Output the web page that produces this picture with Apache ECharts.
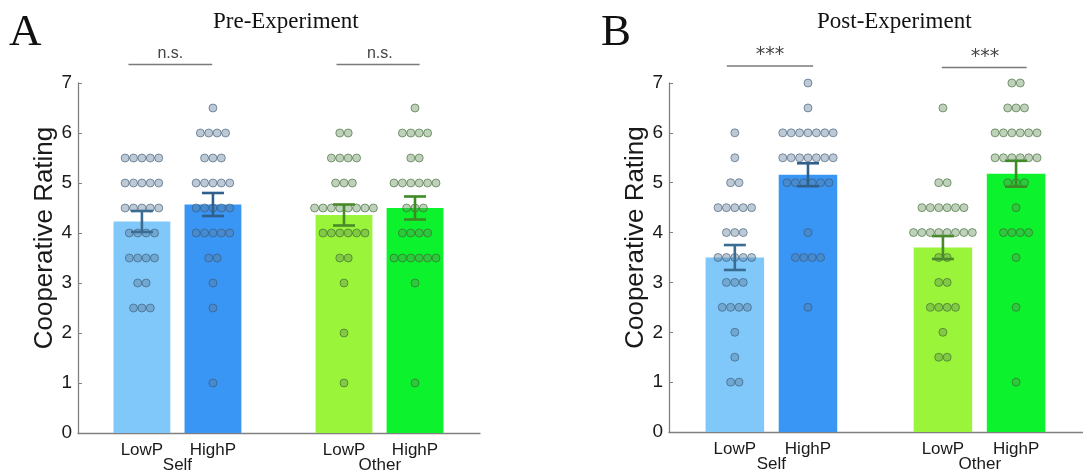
<!DOCTYPE html>
<html><head><meta charset="utf-8">
<script src="https://cdn.jsdelivr.net/npm/echarts@6/dist/echarts.min.js"></script>
<style>html,body{margin:0;padding:0;background:#fff}#c{width:1083px;height:476px}</style>
</head><body><div id="c"></div>
<script>
// ---------- data ----------
const conditions = ['LowP', 'HighP', 'LowP', 'HighP'];
const groups = ['Self', 'Other'];
const barPos = [0.9, 1.9, 3.745, 4.745];
const groupPos = [1.4, 4.25];
const yTicks = [0, 1, 2, 3, 4, 5, 6, 7];

const preMeans = [4.23, 4.57, 4.36, 4.50];
const preSem = [0.21, 0.23, 0.21, 0.23];
const postMeans = [3.50, 5.16, 3.70, 5.18];
const postSem = [0.25, 0.23, 0.23, 0.26];

const preSelfLow = [5.5,5.5,5.5,5.5,5.5, 5,5,5,5,5, 4.5,4.5,4.5,4.5,4.5, 4,4,4,4, 3.5,3.5,3.5,3.5, 3,3, 2.5,2.5,2.5];
const preSelfHigh = [6.5, 6,6,6,6, 5.5,5.5,5.5, 5,5,5,5,5, 4.5,4.5,4.5,4.5,4.5, 4,4,4,4,4, 3.5,3.5, 3, 2.5, 1];
const preOtherLow = [6,6, 5.5,5.5,5.5,5.5, 5,5,5, 4.5,4.5,4.5,4.5,4.5,4.5,4.5,4.5, 4,4,4,4,4,4, 3.5,3.5, 3, 2, 1];
const preOtherHigh = [6.5, 6,6,6,6, 5.5,5.5, 5,5,5,5,5,5, 4.5,4.5,4.5, 4,4,4,4, 3.5,3.5,3.5,3.5,3.5,3.5, 3, 1];
const postSelfLow = [6, 5.5, 5,5, 4.5,4.5,4.5,4.5,4.5, 4,4,4, 3.5,3.5,3.5,3.5,3.5, 3,3,3, 2.5,2.5,2.5,2.5, 2, 1.5, 1,1];
const postSelfHigh = [7, 6.5, 6,6,6,6,6,6,6, 5.5,5.5,5.5,5.5,5.5,5.5,5.5, 5,5,5,5,5,5, 4, 3.5,3.5,3.5,3.5, 2.5];
const postOtherLow = [6.5, 5,5, 4.5,4.5,4.5,4.5,4.5,4.5, 4,4,4,4,4,4,4,4, 3.5,3.5, 3,3, 2.5,2.5,2.5,2.5, 2, 1.5,1.5];
const postOtherHigh = [7,7, 6.5,6.5,6.5, 6,6,6,6,6,6, 5.5,5.5,5.5,5.5,5.5,5.5, 5,5,5, 4.5, 4,4,4,4, 3.5, 2.5, 1];

const preSig = [[0.71, 1.89, 7.37, 1.30], [3.64, 4.81, 7.37, 4.25]];
const preSigText = ['n.s.', 'n.s.'];
const postSig = [[0.79, 1.97, 7.34, 1.38], [3.73, 4.89, 7.31, 4.32]];
const postSigText = ['***', '***'];

const panelTitles = ['Pre-Experiment', 'Post-Experiment'];
const panelLetters = ['A', 'B'];

// ---------- styles ----------
const barColors = ['#80C8FA', '#3A96F5', '#9AF43A', '#0CF22C'];
const errColors = ['#3B6C92', '#2F5F8A', '#4A8A2A', '#3E8A26'];
const dotFill = ['rgba(90,120,150,0.5)', 'rgba(95,140,85,0.5)'];
const dotBorder = ['rgba(55,85,115,0.75)', 'rgba(55,100,45,0.75)'];
const FONT = 'Liberation Sans';

function nearestIdx(arr, v) {
  let b = 0;
  arr.forEach((a, i) => { if (Math.abs(a - v) < Math.abs(arr[b] - v)) b = i; });
  return b;
}

function dotData(lists) {
  const out = [];
  lists.forEach((vals, g) => {
    const counts = {};
    vals.forEach(v => { counts[v] = (counts[v] || 0) + 1; });
    const seen = {};
    vals.forEach(v => {
      const n = counts[v];
      const k = seen[v] || 0; seen[v] = k + 1;
      const dx = (k - (n - 1) / 2) * 8.4;
      const side = g < 2 ? 0 : 1;
      out.push({
        value: [barPos[g], v],
        symbolOffset: [dx, 0],
        itemStyle: { color: dotFill[side], borderColor: dotBorder[side], borderWidth: 1 }
      });
    });
  });
  return out;
}

function xAxes(gi, max) {
  return [{
    type: 'value', gridIndex: gi, min: 0, max: max, position: 'bottom',
    axisLine: { show: true, onZero: false, lineStyle: { color: '#808080', width: 1.3 } },
    axisTick: { show: false }, splitLine: { show: false },
    axisLabel: {
      show: true, customValues: barPos, margin: 9, fontSize: 17, color: '#1a1a1a', fontFamily: FONT,
      formatter: v => conditions[nearestIdx(barPos, v)]
    }
  }, {
    type: 'value', gridIndex: gi, min: 0, max: max, position: 'bottom', offset: 0,
    axisLine: { show: false, onZero: false }, axisTick: { show: false }, splitLine: { show: false },
    axisLabel: {
      show: true, customValues: groupPos, margin: 24, fontSize: 17, color: '#1a1a1a', fontFamily: FONT,
      formatter: v => groups[nearestIdx(groupPos, v)]
    }
  }];
}

function yAxis(gi) {
  return {
    type: 'value', gridIndex: gi, min: yTicks[0], max: yTicks[yTicks.length - 1], interval: 1,
    axisLine: { show: true, lineStyle: { color: '#808080', width: 1.3 } },
    axisTick: { show: true, inside: true, length: 4, lineStyle: { color: '#808080' } },
    splitLine: { show: false },
    axisLabel: { fontSize: 19, color: '#1a1a1a', margin: 6, fontFamily: FONT },
    name: 'Cooperative Rating', nameLocation: 'middle', nameGap: 18,
    nameTextStyle: { fontSize: 26, color: '#1a1a1a', fontFamily: FONT, padding: [0, 0, 0, 40] }
  };
}

function panelSeries(gi, means, sems, lists, sig, sigText) {
  const xi = gi * 2, yi = gi;
  return [
    {
      type: 'custom', xAxisIndex: xi, yAxisIndex: yi, clip: false, silent: true, z: 1,
      data: barPos.map((x, i) => [x, means[i]]),
      renderItem: (p, api) => {
        const x = api.value(0), y = api.value(1);
        const a = api.coord([x - 0.4, y]), b = api.coord([x + 0.4, 0]);
        return { type: 'rect', shape: { x: a[0], y: a[1], width: b[0] - a[0], height: b[1] - a[1] },
          style: { fill: barColors[p.dataIndex] } };
      }
    },
    {
      type: 'scatter', xAxisIndex: xi, yAxisIndex: yi, symbol: 'circle', symbolSize: 8, silent: true, z: 2,
      data: dotData(lists)
    },
    {
      type: 'custom', xAxisIndex: xi, yAxisIndex: yi, clip: false, silent: true, z: 3,
      data: barPos.map((x, i) => [x, means[i], sems[i]]),
      renderItem: (p, api) => {
        const x = api.value(0), m = api.value(1), s = api.value(2);
        const hi = api.coord([x, m + s]), lo = api.coord([x, m - s]);
        const st = { stroke: errColors[p.dataIndex], lineWidth: 2.6 };
        return { type: 'group', children: [
          { type: 'line', shape: { x1: hi[0], y1: hi[1], x2: lo[0], y2: lo[1] }, style: st },
          { type: 'line', shape: { x1: hi[0] - 11, y1: hi[1], x2: hi[0] + 11, y2: hi[1] }, style: st },
          { type: 'line', shape: { x1: lo[0] - 11, y1: lo[1], x2: lo[0] + 11, y2: lo[1] }, style: st }
        ] };
      }
    },
    {
      type: 'custom', xAxisIndex: xi, yAxisIndex: yi, clip: false, silent: true, z: 4,
      data: sig,
      renderItem: (p, api) => {
        const a = api.coord([api.value(0), api.value(2)]), b = api.coord([api.value(1), api.value(2)]);
        const t = api.coord([api.value(3), api.value(2)]);
        const txt = sigText[p.dataIndex];
        const isStar = txt.indexOf('*') >= 0;
        return { type: 'group', children: [
          { type: 'line', shape: { x1: a[0], y1: a[1], x2: b[0], y2: b[1] }, style: { stroke: '#7a7a7a', lineWidth: 1.6 } },
          { type: 'text', x: t[0], y: t[1] - (isStar ? 1 : 3), style: { text: txt, align: 'center', verticalAlign: 'bottom',
            fontSize: isStar ? 19 : 16, fontFamily: isStar ? 'DejaVu Sans' : FONT, fill: '#444' } }
        ] };
      }
    }
  ];
}

const titleStyle = { fontFamily: 'Liberation Serif', fontWeight: 'normal', color: '#111' };

const option = {
  animation: false,
  backgroundColor: '#fff',
  title: [
    { text: panelLetters[0], left: 9, top: 11, padding: 0, textStyle: Object.assign({ fontSize: 45 }, titleStyle) },
    { text: panelTitles[0], left: 213, top: 10, padding: 0, textStyle: Object.assign({ fontSize: 23 }, titleStyle) },
    { text: panelLetters[1], left: 601, top: 11, padding: 0, textStyle: Object.assign({ fontSize: 45 }, titleStyle) },
    { text: panelTitles[1], left: 817, top: 10, padding: 0, textStyle: Object.assign({ fontSize: 23 }, titleStyle) }
  ],
  grid: [
    { left: 78, top: 83, width: 402, height: 350 },
    { left: 669, top: 83, width: 414, height: 349 }
  ],
  xAxis: [...xAxes(0, 5.66), ...xAxes(1, 5.66)],
  yAxis: [yAxis(0), yAxis(1)],
  series: [
    ...panelSeries(0, preMeans, preSem, [preSelfLow, preSelfHigh, preOtherLow, preOtherHigh], preSig, preSigText),
    ...panelSeries(1, postMeans, postSem, [postSelfLow, postSelfHigh, postOtherLow, postOtherHigh], postSig, postSigText)
  ]
};

const chart = echarts.init(document.getElementById('c'), null, { renderer: 'canvas' });
chart.setOption(option);
</script>
</body></html>
